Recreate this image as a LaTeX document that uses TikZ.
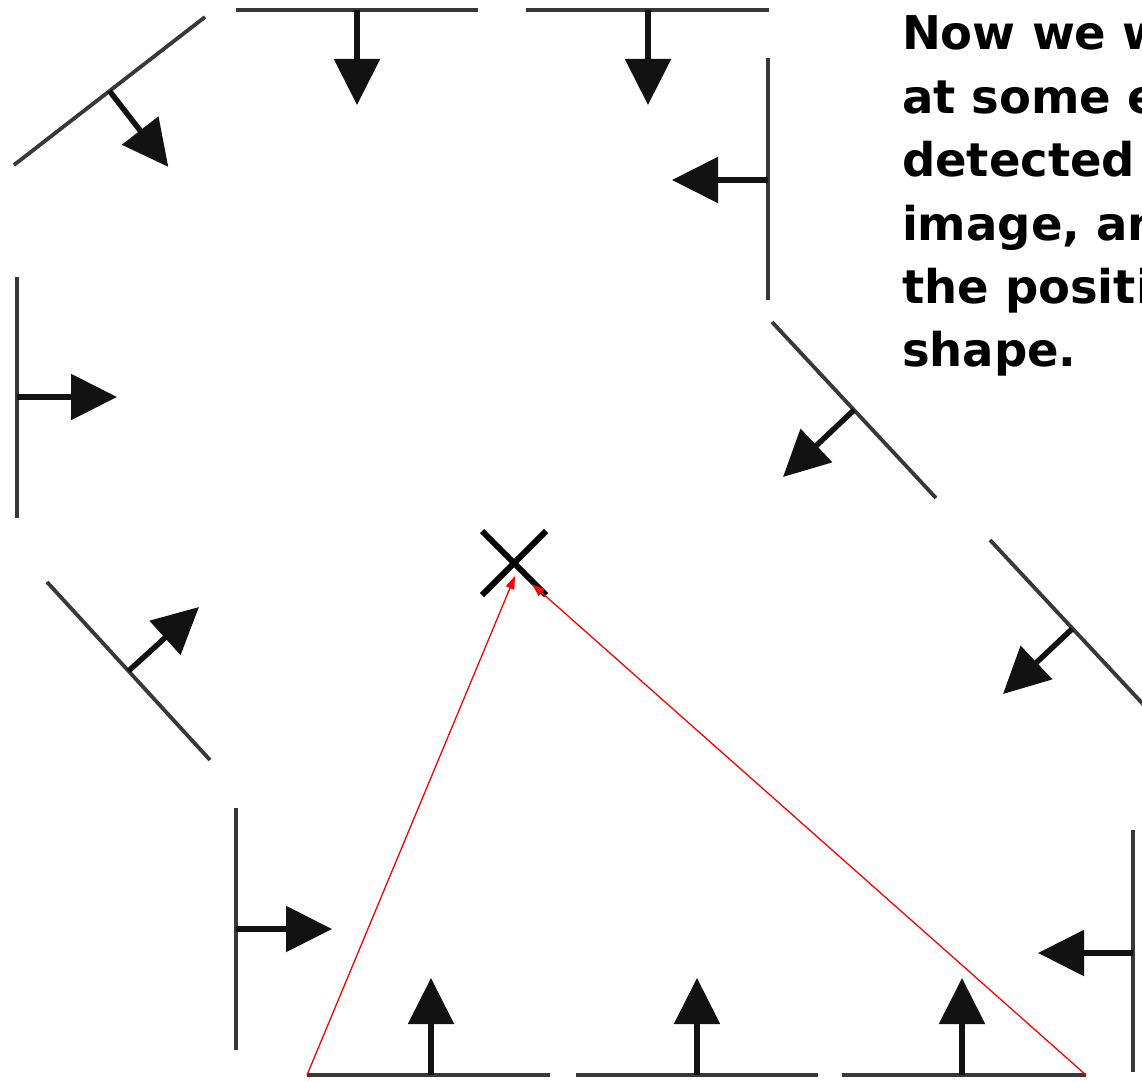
\documentclass[tikz,border=0pt]{standalone}
\usepackage{fontspec}
\setsansfont{DejaVu Sans}
\usetikzlibrary{arrows.meta,shapes.misc}
\begin{document}
\begin{tikzpicture}[x=1pt, y=-1pt, line width=4pt,
  edge/.style={draw=black!78, line width=3.8pt},
  normal/.style={draw=black!93, line width=5.5pt, -{Triangle[length=46pt, width=45pt]}},
  vote/.style={draw=red, line width=1.3pt, -{Triangle[length=13pt, width=9pt]}}]
  \useasboundingbox (0,0) rectangle (1142,1081);
  \clip (0,0) rectangle (1142,1081);
  % top row
  \draw[edge] (14,165) -- (205,17);
  \draw[normal] (109.5,91) -- (168.3,166.9);
  \draw[edge] (236,10) -- (478,10);
  \draw[normal] (357,10) -- (357,105);
  \draw[edge] (526,10) -- (769,10);
  \draw[normal] (648,10) -- (648,105);
  \draw[edge] (768,58) -- (768,300);
  \draw[normal] (768,180) -- (672,180);
  % left side
  \draw[edge] (17,277) -- (17,518);
  \draw[normal] (17,397) -- (117,397);
  \draw[edge] (47,582) -- (210,760);
  \draw[normal] (128.5,671) -- (199,607);
  \draw[edge] (236,808) -- (236,1050);
  \draw[normal] (236,929) -- (332,929);
  % right side
  \draw[edge] (772,322) -- (936,498);
  \draw[normal] (854,410) -- (783,477);
  \draw[edge] (990,540) -- (1155,717);
  \draw[normal] (1072,629) -- (1003,694);
  \draw[edge] (1133,830) -- (1133,1072);
  \draw[normal] (1133,953) -- (1038,953);
  % bottom row
  \coordinate (b1w) at (307,1075);
  \coordinate (b3e) at (1086,1075);
  \draw[edge] (b1w) -- (550,1075);
  \draw[normal] (431,1075) -- (431,978);
  \draw[edge] (576,1075) -- (818,1075);
  \draw[normal] (697,1075) -- (697,978);
  \draw[edge] (842,1075) -- (b3e);
  \draw[normal] (962,1075) -- (962,978);
  % centre and votes
  \node[cross out, draw=black, line width=6pt, minimum size=58pt, inner sep=0pt] (centre) at (514,563) {};
  \coordinate (hitl) at (515,576);
  \coordinate (hitr) at (532,584);
  \draw[vote] (b1w) -- (hitl);
  \draw[vote] (b3e) -- (hitr);
  \node[anchor=north west, inner sep=0pt, align=left,
        font=\sffamily\bfseries\fontsize{46.5}{63.4}\selectfont] (note) at (900,14)
    {Now we w\\at some e\\detected f\\image, an\\the positio\\shape.};
\end{tikzpicture}
\end{document}
